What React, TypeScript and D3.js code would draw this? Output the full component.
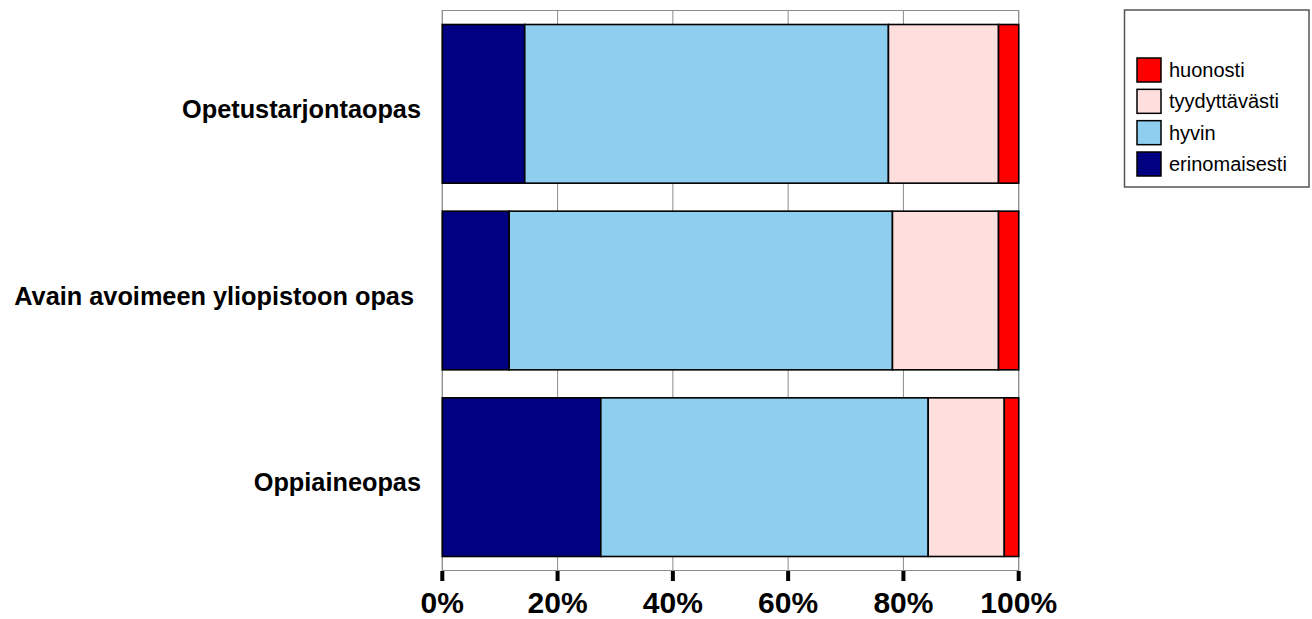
import React from "react";
import * as d3 from "d3";

const categories = ["Opetustarjontaopas", "Avain avoimeen yliopistoon opas ", "Oppiaineopas"];
const seriesNames = ["erinomaisesti", "hyvin", "tyydyttävästi", "huonosti"];
const erinomaisesti = [14.3, 11.6, 27.5];
const hyvin = [63.1, 66.5, 56.8];
const tyydyttavasti = [19.1, 18.4, 13.2];
const huonosti = [3.5, 3.5, 2.5];
const tickValues = [0, 20, 40, 60, 80, 100];
const colors = ["#000080", "#8ECEEF", "#FFDEDE", "#FF0000"];
const legendOrder = ["huonosti", "tyydyttävästi", "hyvin", "erinomaisesti"];

const FONT = "'Liberation Sans', Arial, Helvetica, sans-serif";

export default function App() {
  const W = 1312, H = 619;
  const left = 442.3, right = 1018.7, top = 10.5, bottom = 570.5;

  const x = d3.scaleLinear().domain([0, 100]).range([left, right]);
  const y = d3.scaleBand<string>().domain(categories).range([top, bottom]).paddingInner(0.15).paddingOuter(0.075);

  const rows = categories.map((c, i) => ({
    cat: c,
    erinomaisesti: erinomaisesti[i],
    hyvin: hyvin[i],
    "tyydyttävästi": tyydyttavasti[i],
    huonosti: huonosti[i],
  }));
  const stack = d3.stack<any>().keys(seriesNames)(rows);
  const color = d3.scaleOrdinal<string, string>().domain(seriesNames).range(colors);

  const legend = { x: 1124.5, y: 10, w: 184.5, h: 177 };
  const legendY = d3.scalePoint<string>().domain(legendOrder).range([70, 164]);

  return (
    <svg width={W} height={H} style={{ position: "absolute", left: 0, top: 0, background: "#fff" }}>
      {/* gridlines */}
      {tickValues.map((t) => (
        <line key={"g" + t} x1={x(t)} x2={x(t)} y1={top} y2={bottom} stroke="#8c8c8c" strokeWidth={1} />
      ))}
      <rect x={left} y={top} width={right - left} height={bottom - top} fill="none" stroke="#8c8c8c" strokeWidth={1} />
      {/* bars */}
      {stack.map((s) => (
        <g key={s.key} fill={color(s.key)}>
          {s.map((d, i) => (
            <rect
              key={i}
              x={x(d[0])}
              y={y(categories[i])}
              width={x(d[1]) - x(d[0])}
              height={y.bandwidth()}
              stroke="#000"
              strokeWidth={1.6}
            />
          ))}
        </g>
      ))}
      {/* category labels */}
      {categories.map((c) => (
        <text
          key={c}
          x={421}
          y={(y(c) as number) + y.bandwidth() / 2 + 14}
          textAnchor="end"
          fontFamily={FONT}
          fontWeight="bold"
          fontSize={25.3}
          style={{ whiteSpace: "pre" }}
          fill="#000"
        >
          {c}
        </text>
      ))}
      {/* ticks */}
      {tickValues.map((t) => (
        <g key={"t" + t}>
          <rect x={x(t) - 2} y={571} width={4} height={10} fill="#000" />
          <text
            x={x(t)}
            y={613}
            textAnchor="middle"
            fontFamily={FONT}
            fontWeight="bold"
            fontSize={30}
            fill="#000"
          >
            {t + "%"}
          </text>
        </g>
      ))}
      {/* legend */}
      <rect x={legend.x} y={legend.y} width={legend.w} height={legend.h} fill="#fff" stroke="#555" strokeWidth={1.5} />
      {legendOrder.map((k) => {
        const cy = legendY(k) as number;
        return (
          <g key={k}>
            <rect x={1137} y={cy - 12} width={24} height={24} fill={color(k)} stroke="#000" strokeWidth={1.5} />
            <text x={1169} y={cy + 7} fontFamily={FONT} fontSize={20} fill="#000">
              {k}
            </text>
          </g>
        );
      })}
    </svg>
  );
}
